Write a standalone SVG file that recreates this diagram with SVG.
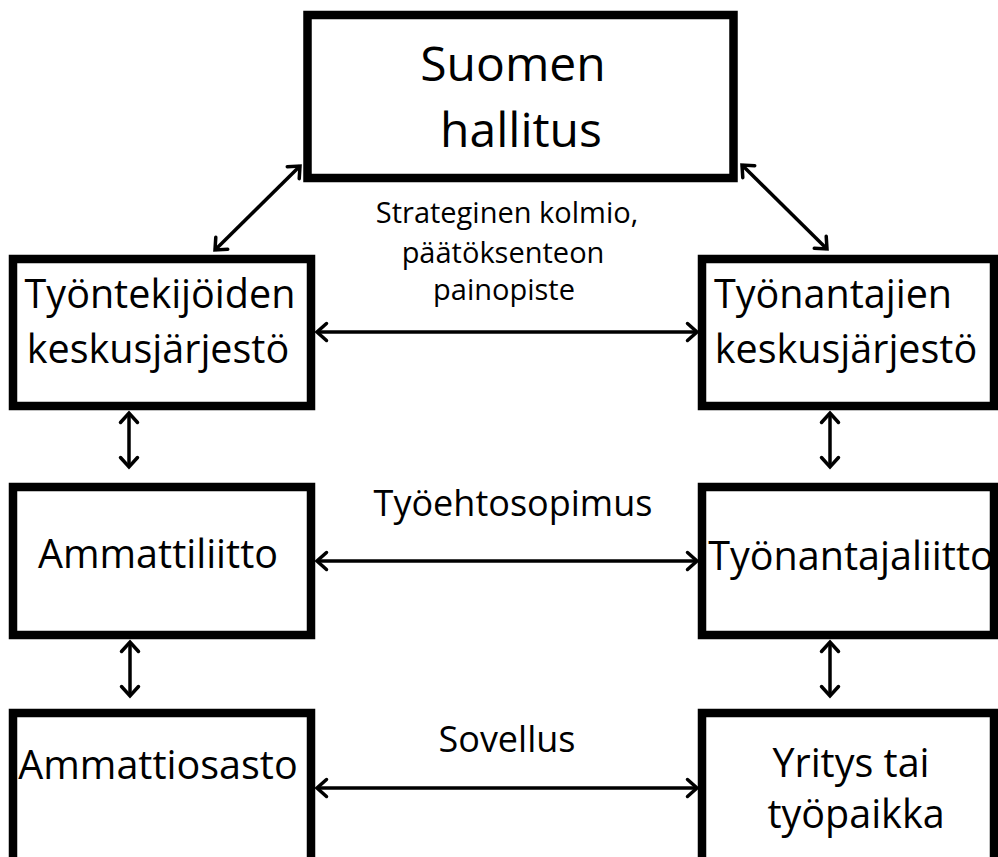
<svg xmlns="http://www.w3.org/2000/svg" width="998" height="857" viewBox="0 0 998 857">
<style>
.box{fill:#fff;stroke:#000;stroke-width:8.5}
.t{font-family:"Open Sans","Noto Sans",sans-serif;fill:#000;text-anchor:middle}
.big{font-size:48px}
.n{font-size:39.5px}
.lab{font-size:36px}
.sm{font-size:29px}
.c{stroke:#000;stroke-width:3.5;fill:none;marker-start:url(#ah);marker-end:url(#ah)}
</style>
<defs>
<marker id="ah" markerUnits="userSpaceOnUse" viewBox="-14 -12 16 24" refX="0" refY="0" markerWidth="16" markerHeight="24" orient="auto-start-reverse" overflow="visible">
<path d="M-9.5 -8.5 L0 0 L-9.5 8.5" fill="none" stroke="#000" stroke-width="3.5" stroke-linecap="round" stroke-linejoin="miter"/>
</marker>
</defs>
<rect width="998" height="857" fill="#fff"/>
<g id="connectors">
<line class="c" x1="300" y1="166" x2="215" y2="250"/>
<line class="c" x1="742" y1="165" x2="827" y2="249"/>
<line class="c" x1="317" y1="332" x2="697" y2="332"/>
<line class="c" x1="129" y1="413" x2="129" y2="467"/>
<line class="c" x1="830" y1="413" x2="830" y2="467"/>
<line class="c" x1="317" y1="561" x2="697" y2="561"/>
<line class="c" x1="130" y1="642" x2="130" y2="696"/>
<line class="c" x1="830" y1="642" x2="830" y2="696"/>
<line class="c" x1="317" y1="788" x2="697" y2="788"/>
</g>
<g id="label-strateginen">
<text class="t sm" x="507" y="223">Strateginen kolmio,</text>
<text class="t sm" x="503" y="263">päätöksenteon</text>
<text class="t sm" x="504" y="300">painopiste</text>
</g>
<g id="label-tyoehtosopimus"><text class="t lab" x="513" y="516">Työehtosopimus</text></g>
<g id="label-sovellus"><text class="t lab" x="507" y="752">Sovellus</text></g>
<g id="node-hallitus">
<rect class="box" x="307.5" y="15" width="426" height="163"/>
<text class="t big" x="513" y="81">Suomen</text>
<text class="t big" x="521" y="147">hallitus</text>
</g>
<g id="node-tyontekijat">
<rect class="box" x="13" y="259" width="298" height="147"/>
<text class="t n" x="160" y="308">Työntekijöiden</text>
<text class="t n" x="158" y="363">keskusjärjestö</text>
</g>
<g id="node-tyonantajat">
<rect class="box" x="702" y="259" width="292" height="147"/>
<text class="t n" x="833" y="308">Työnantajien</text>
<text class="t n" x="846" y="363">keskusjärjestö</text>
</g>
<g id="node-ammattiliitto">
<rect class="box" x="13" y="487" width="298" height="148"/>
<text class="t n" x="158" y="568">Ammattiliitto</text>
</g>
<g id="node-tyonantajaliitto">
<rect class="box" x="702" y="487" width="292" height="148"/>
<text class="t n" x="851" y="570">Työnantajaliitto</text>
</g>
<g id="node-ammattiosasto">
<rect class="box" x="13" y="713" width="298" height="170"/>
<text class="t n" x="158" y="779">Ammattiosasto</text>
</g>
<g id="node-yritys">
<rect class="box" x="702" y="713" width="292" height="170"/>
<text class="t n" x="851" y="777">Yritys tai</text>
<text class="t n" x="856" y="828">työpaikka</text>
</g>
</svg>
